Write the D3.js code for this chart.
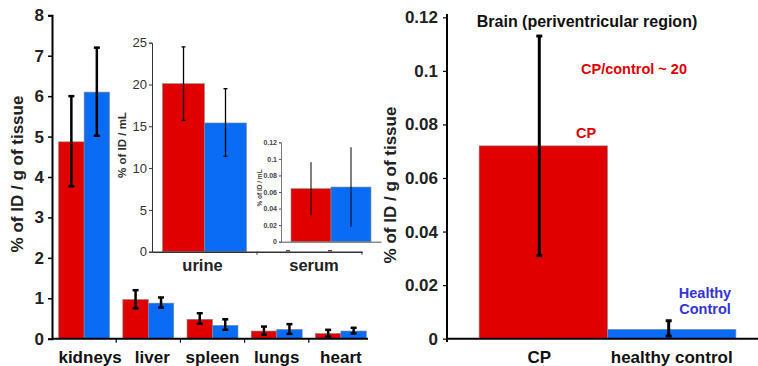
<!DOCTYPE html>
<html><head><meta charset="utf-8">
<script src="https://cdn.jsdelivr.net/npm/d3@7"></script>
<style>
html,body{margin:0;padding:0;background:#fff;}
svg{display:block;font-family:Arial,"Liberation Sans",sans-serif;}
</style></head>
<body>
<svg id="c" width="758" height="366"></svg>
<script>
// ---------- data ----------
const organs = ["kidneys","liver","spleen","lungs","heart"];
const groups = ["CP","control"];
const organCP      = [4.87, 0.97, 0.48, 0.19, 0.13];
const organCPLo    = [3.77, 0.75, 0.37, 0.10, 0.05];
const organCPHi    = [6.00, 1.20, 0.63, 0.30, 0.22];
const organCtl     = [6.10, 0.88, 0.33, 0.23, 0.19];
const organCtlLo   = [5.02, 0.77, 0.22, 0.12, 0.13];
const organCtlHi   = [7.20, 1.02, 0.48, 0.36, 0.27];
const organTicks   = [0,1,2,3,4,5,6,7,8];

const fluids = ["urine","serum"];
const urineVals = [20.1, 15.4];
const urineLo   = [15.7, 11.4];
const urineHi   = [24.5, 19.5];
const urineTicks = [0,5,10,15,20,25];
const serumVals = [0.064, 0.066];
const serumLo   = [0.032, 0.018];
const serumHi   = [0.096, 0.114];
const serumTicks = [0,0.02,0.04,0.06,0.08,0.1,0.12];

const brainCats = ["CP","healthy control"];
const brainVals = [0.072, 0.0035];
const brainLo   = [0.031, 0.001];
const brainHi   = [0.113, 0.0067];
const brainTicks = [0,0.02,0.04,0.06,0.08,0.1,0.12];

// ---------- styles ----------
const RED = "#e00000", BLUE = "#0a6cf4", EDGE = "#8a8a8a";
const colors = [RED, BLUE];
const svg = d3.select("#c");

function errBar(g, x, lo, hi, y, w, cap) {
  g.append("line").attr("x1",x).attr("x2",x).attr("y1",y(lo)).attr("y2",y(hi))
    .attr("stroke","#000").attr("stroke-width",w);
  [lo,hi].forEach(v => g.append("line").attr("x1",x-cap).attr("x2",x+cap)
    .attr("y1",y(v)).attr("y2",y(v)).attr("stroke","#000").attr("stroke-width",w));
}

// ---------- left main chart ----------
{
  const y = d3.scaleLinear().domain([0,8]).range([338.7,15.3]);
  const x0 = d3.scaleBand().domain(organs).range([52,373]);
  const x1 = d3.scaleBand().domain(groups).range([0,x0.bandwidth()]).paddingOuter(0.26);
  const g = svg.append("g");
  const vals = [organCP, organCtl], lo = [organCPLo, organCtlLo], hi = [organCPHi, organCtlHi];
  organs.forEach((o,i) => {
    groups.forEach((s,j) => {
      g.append("rect").attr("x", x0(o)+x1(s)).attr("width", x1.bandwidth())
        .attr("y", y(vals[j][i])).attr("height", y(0)-y(vals[j][i]))
        .attr("fill", colors[j]).attr("stroke", EDGE).attr("stroke-width",0.6);
    });
  });
  organs.forEach((o,i) => {
    groups.forEach((s,j) => {
      const cx = x0(o)+x1(s)+x1.bandwidth()/2;
      errBar(g, cx, lo[j][i], hi[j][i], y, 2.5, 3);
    });
  });
  // y axis
  const ya = g.append("g").attr("transform","translate(52,0)")
    .call(d3.axisLeft(y).tickValues(organTicks).tickSize(4).tickPadding(4).tickFormat(d3.format("d")));
  ya.select(".domain").attr("stroke","#000").attr("stroke-width",2);
  ya.selectAll(".tick line").attr("stroke","#000").attr("stroke-width",1.5);
  ya.selectAll("text").attr("font-size",17).attr("font-weight","bold").attr("fill","#222");
  // x axis
  const xa = g.append("g").attr("transform",`translate(0,${y(0)})`)
    .call(d3.axisBottom(x0).tickSize(0).tickPadding(12));
  xa.select(".domain").attr("stroke","#000").attr("stroke-width",2).attr("d","M52,0H368");
  xa.selectAll("text").attr("font-size",17).attr("font-weight","bold").attr("fill","#111");
  xa.selectAll(".tick").filter(d => d==="kidneys").select("text").attr("dx",6);
  xa.selectAll(".tick").filter(d => d==="liver").select("text").attr("dx",4);
  organs.slice(1).forEach(o => g.append("line").attr("x1",x0(o)).attr("x2",x0(o))
    .attr("y1",y(0)).attr("y2",y(0)+4).attr("stroke","#000").attr("stroke-width",1.2));
  g.append("text").attr("transform","translate(23,174) rotate(-90)").attr("text-anchor","middle")
    .attr("font-size",17).attr("font-weight","bold").attr("fill","#222").text("% of ID / g of tissue");
}

// ---------- inset 1: urine ----------
{
  const y = d3.scaleLinear().domain([0,25]).range([251.7,42.7]);
  const x0 = d3.scaleBand().domain(fluids).range([152,362]);
  const x1 = d3.scaleBand().domain(groups).range([0,x0.bandwidth()]).paddingOuter(0.25);
  const g = svg.append("g");
  groups.forEach((s,j) => {
    g.append("rect").attr("x", x0("urine")+x1(s)).attr("width", x1.bandwidth())
      .attr("y", y(urineVals[j])).attr("height", y(0)-y(urineVals[j]))
      .attr("fill", colors[j]).attr("stroke", EDGE).attr("stroke-width",0.6);
  });
  groups.forEach((s,j) => errBar(g, x0("urine")+x1(s)+x1.bandwidth()/2, urineLo[j], urineHi[j], y, 1.3, 2));
  const ya = g.append("g").attr("transform","translate(152,0)")
    .call(d3.axisLeft(y).tickValues(urineTicks).tickSize(3).tickPadding(2));
  ya.select(".domain").attr("stroke","#333").attr("stroke-width",1);
  ya.selectAll(".tick line").attr("stroke","#333");
  ya.selectAll("text").attr("font-size",13).attr("fill","#333");
  const xa = g.append("g").attr("transform",`translate(0,${y(0)})`)
    .call(d3.axisBottom(x0).tickSize(0).tickFormat(""));
  xa.select(".domain").attr("stroke","#333").attr("stroke-width",1.5);
  [x0("serum"), 362].forEach(v => g.append("line").attr("x1",v).attr("x2",v)
    .attr("y1",y(0)).attr("y2",y(0)+3).attr("stroke","#333"));
  g.append("text").attr("x", x0("urine")+x0.bandwidth()/2-2).attr("y",271).attr("text-anchor","middle")
    .attr("font-size",16.5).attr("font-weight","bold").attr("fill","#222").text("urine");
  g.append("text").attr("transform","translate(126,145) rotate(-90)").attr("text-anchor","middle")
    .attr("font-size",11.5).attr("font-weight","bold").attr("fill","#333").text("% of ID / mL");
}

// ---------- inset 2: serum ----------
{
  const y = d3.scaleLinear().domain([0,0.12]).range([241.7,142.3]);
  const x0 = d3.scaleBand().domain(["serum"]).range([281,381]);
  const x1 = d3.scaleBand().domain(groups).range([0,x0.bandwidth()]).paddingOuter(0.25);
  const g = svg.append("g");
  groups.forEach((s,j) => {
    g.append("rect").attr("x", x0("serum")+x1(s)).attr("width", x1.bandwidth())
      .attr("y", y(serumVals[j])).attr("height", y(0)-y(serumVals[j]))
      .attr("fill", colors[j]).attr("stroke", EDGE).attr("stroke-width",0.6);
  });
  groups.forEach((s,j) => errBar(g, x0("serum")+x1(s)+x1.bandwidth()/2, serumLo[j], serumHi[j], y, 1, 0));
  const ya = g.append("g").attr("transform","translate(281,0)")
    .call(d3.axisLeft(y).tickValues(serumTicks).tickSize(2).tickPadding(2).tickFormat(d => d===0?"0":String(+d.toFixed(2))));
  ya.select(".domain").attr("stroke","#555").attr("stroke-width",0.8);
  ya.selectAll(".tick line").attr("stroke","#555");
  ya.selectAll("text").attr("font-size",7).attr("font-weight","bold").attr("fill","#444");
  const xa = g.append("g").attr("transform",`translate(0,${y(0)})`)
    .call(d3.axisBottom(x0).tickSize(0).tickFormat(""));
  xa.select(".domain").attr("stroke","#555").attr("stroke-width",1);
  [288, 330].forEach(v => g.append("line").attr("x1",v-2).attr("x2",v+2)
    .attr("y1",250.7).attr("y2",250.7).attr("stroke","#333").attr("stroke-width",1.2));
  g.append("text").attr("x", x0("serum")+x0.bandwidth()/2-17).attr("y",271).attr("text-anchor","middle")
    .attr("font-size",16.5).attr("font-weight","bold").attr("fill","#222").text("serum");
  g.append("text").attr("transform","translate(262,188) rotate(-90)").attr("text-anchor","middle")
    .attr("font-size",6.5).attr("font-weight","bold").attr("fill","#444").text("% of ID / mL");
}

// ---------- right chart: brain ----------
{
  const y = d3.scaleLinear().domain([0,0.12]).range([338.7,17.3]);
  const x = d3.scaleBand().domain(brainCats).range([447,768]).paddingOuter(0.25);
  const g = svg.append("g");
  brainCats.forEach((c,j) => {
    g.append("rect").attr("x", x(c)).attr("width", x.bandwidth())
      .attr("y", y(brainVals[j])).attr("height", y(0)-y(brainVals[j]))
      .attr("fill", colors[j]).attr("stroke", EDGE).attr("stroke-width",0.6);
  });
  brainCats.forEach((c,j) => errBar(g, x(c)+x.bandwidth()/2 - (j===0?4:3), brainLo[j], brainHi[j], y, 3, 3));
  const ya = g.append("g").attr("transform","translate(447,0)")
    .call(d3.axisLeft(y).tickValues(brainTicks).tickSize(4).tickPadding(5)
      .tickFormat(d => d===0?"0":String(+d.toFixed(2))));
  ya.select(".domain").attr("stroke","#000").attr("stroke-width",2).attr("d","M0,14V342");
  ya.selectAll(".tick line").attr("stroke","#000").attr("stroke-width",1.2);
  ya.selectAll("text").attr("font-size",17).attr("font-weight","bold").attr("fill","#222");
  const xa = g.append("g").attr("transform",`translate(0,${y(0)})`)
    .call(d3.axisBottom(x).tickSize(0).tickPadding(12));
  xa.select(".domain").attr("stroke","#000").attr("stroke-width",2).attr("d","M447,0H758");
  xa.selectAll("text").attr("font-size",17).attr("font-weight","bold").attr("fill","#111");
  xa.selectAll(".tick").filter(d => d==="CP").select("text").attr("dx",-4);
  g.append("text").attr("transform","translate(396,185) rotate(-90)").attr("text-anchor","middle")
    .attr("font-size",17).attr("font-weight","bold").attr("fill","#222").text("% of ID / g of tissue");
  g.append("text").attr("x",587).attr("y",27).attr("text-anchor","middle")
    .attr("font-size",16).attr("font-weight","bold").attr("fill","#111").text("Brain (periventricular region)");
  g.append("text").attr("x",634).attr("y",74).attr("text-anchor","middle")
    .attr("font-size",14.5).attr("font-weight","bold").attr("fill",RED).text("CP/control ~ 20");
  g.append("text").attr("x",586).attr("y",138).attr("text-anchor","middle")
    .attr("font-size",14.5).attr("font-weight","bold").attr("fill",RED).text("CP");
  g.append("text").attr("x",705).attr("y",298).attr("text-anchor","middle")
    .attr("font-size",14.5).attr("font-weight","bold").attr("fill","#3333d6").text("Healthy");
  g.append("text").attr("x",705).attr("y",314).attr("text-anchor","middle")
    .attr("font-size",14.5).attr("font-weight","bold").attr("fill","#3333d6").text("Control");
}
</script>
</body></html>
